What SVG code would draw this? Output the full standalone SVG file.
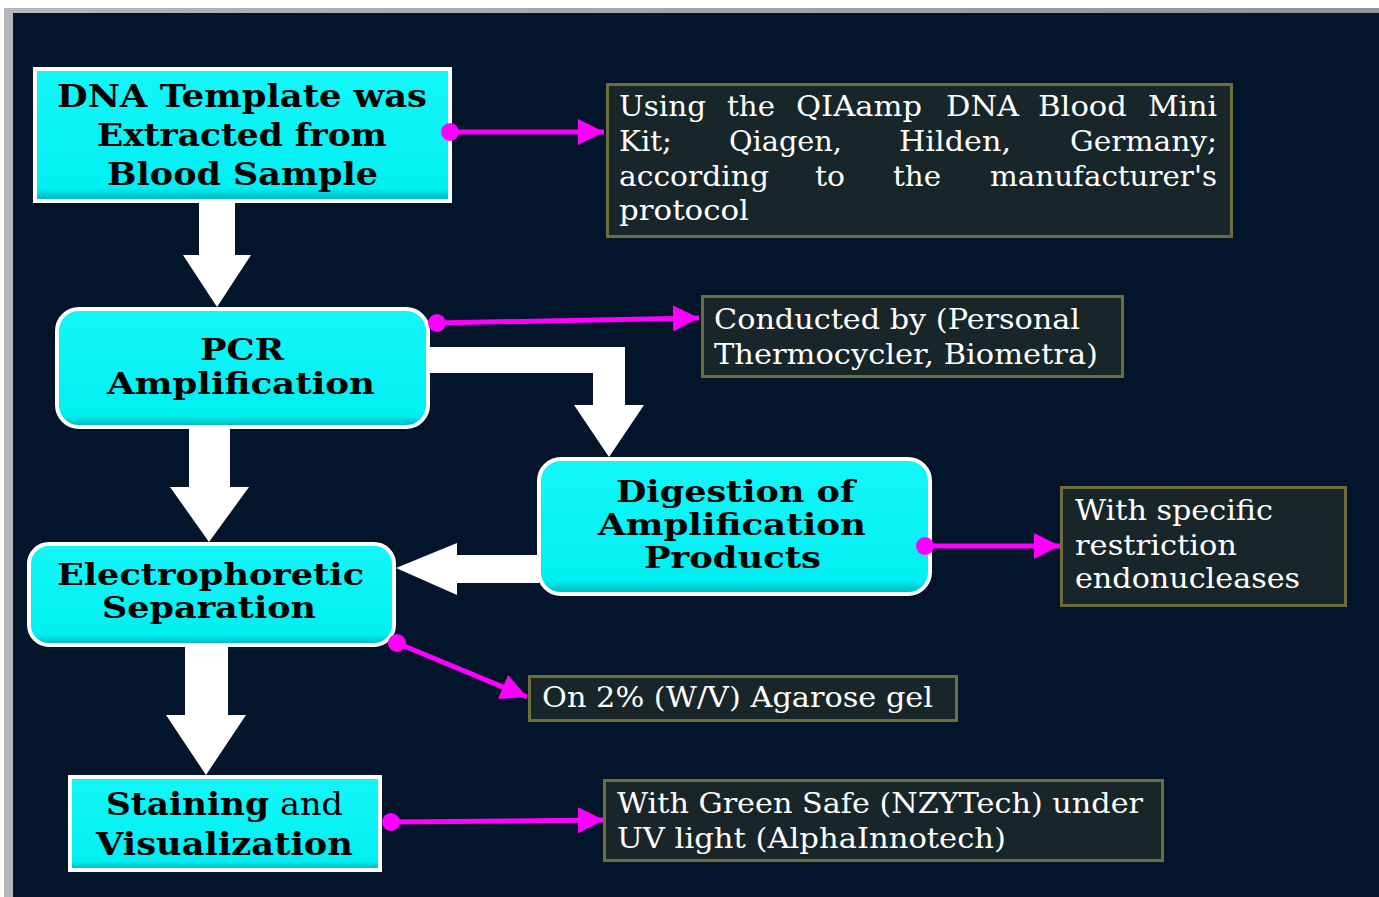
<svg xmlns="http://www.w3.org/2000/svg" width="1379" height="897" viewBox="0 0 1379 897">
<defs>
<linearGradient id="cyan" x1="0" y1="0" x2="0" y2="1">
<stop offset="0" stop-color="#14f6f8"/>
<stop offset="0.9" stop-color="#00f0f2"/>
<stop offset="1" stop-color="#00b2b8"/>
</linearGradient>
<linearGradient id="frame" x1="0" y1="0" x2="1" y2="0">
<stop offset="0" stop-color="#b4b8bc"/>
<stop offset="1" stop-color="#8e949a"/>
</linearGradient>
<marker id="mh" markerUnits="userSpaceOnUse" markerWidth="26" markerHeight="26" refX="24" refY="12" orient="auto" viewBox="0 0 24 24">
<path d="M0,0 L24,12 L0,24 z" fill="#ff00ff"/>
</marker>
<style>
.node{fill:url(#cyan);stroke:#ffffff;stroke-width:4}
.nt{font-family:"DejaVu Serif","Liberation Serif",serif;font-weight:bold;font-size:32px;fill:#000000}
.ns{font-size:29px}
.nr{font-family:"DejaVu Serif","Liberation Serif",serif;font-weight:normal;font-size:32px;fill:#000000}
.box{fill:#182629;stroke:#6d6d3c;stroke-width:3}
.bt{font-family:"DejaVu Serif","Liberation Serif",serif;font-size:28px;fill:#ffffff}
.blk{fill:#ffffff}
.mag{stroke:#ff00ff;stroke-width:5;fill:none;marker-end:url(#mh)}
.dot{fill:#ff00ff}
</style>
</defs>
<rect x="0" y="0" width="1379" height="897" fill="#ffffff"/>
<rect x="4" y="8" width="1375" height="889" fill="url(#frame)"/>
<rect x="13" y="13" width="1366" height="884" fill="#03152b"/>

<g id="block-arrows">
<polygon class="blk" points="199,203 235,203 235,255 251,255 217,307 183,255 199,255"/>
<polygon class="blk" points="189,428 230,428 230,487 249,487 209,542 170,487 189,487"/>
<polygon class="blk" points="185,647 228,647 228,715 246,715 206,775 166,715 185,715"/>
<polygon class="blk" points="427,347 625,347 625,405 644,405 609,457 574,405 593,405 593,373 427,373"/>
<polygon class="blk" points="539,555 457,555 457,543 396,568 457,595 457,583 539,583"/>
</g>

<g id="node-dna">
<rect class="node" x="35" y="69" width="415" height="132"/>
<text class="nt" x="57" y="107" textLength="370" lengthAdjust="spacingAndGlyphs">DNA Template was</text>
<text class="nt" x="97" y="146" textLength="290" lengthAdjust="spacingAndGlyphs">Extracted from</text>
<text class="nt" x="107" y="185" textLength="271" lengthAdjust="spacingAndGlyphs">Blood Sample</text>
</g>

<g id="node-pcr">
<rect class="node" x="57" y="309" width="371" height="118" rx="22"/>
<text class="nt ns" x="200" y="360" textLength="84" lengthAdjust="spacingAndGlyphs">PCR</text>
<text class="nt ns" x="107" y="394" textLength="268" lengthAdjust="spacingAndGlyphs">Amplification</text>
</g>

<g id="node-digestion">
<rect class="node" x="539" y="459" width="391" height="135" rx="22"/>
<text class="nt ns" x="616" y="502" textLength="239" lengthAdjust="spacingAndGlyphs">Digestion of</text>
<text class="nt ns" x="598" y="535" textLength="268" lengthAdjust="spacingAndGlyphs">Amplification</text>
<text class="nt ns" x="644" y="568" textLength="177" lengthAdjust="spacingAndGlyphs">Products</text>
</g>

<g id="node-electro">
<rect class="node" x="29" y="544" width="365" height="101" rx="20"/>
<text class="nt ns" x="57" y="585" textLength="307" lengthAdjust="spacingAndGlyphs">Electrophoretic</text>
<text class="nt ns" x="102" y="618" textLength="214" lengthAdjust="spacingAndGlyphs">Separation</text>
</g>

<g id="node-staining">
<rect class="node" x="70" y="777" width="310" height="93"/>
<text class="nt" x="106" y="815" textLength="163" lengthAdjust="spacingAndGlyphs">Staining</text>
<text class="nr" x="280" y="815" textLength="63" lengthAdjust="spacingAndGlyphs">and</text>
<text class="nt" x="96" y="855" textLength="257" lengthAdjust="spacingAndGlyphs">Visualization</text>
</g>

<g id="note-qiaamp">
<rect class="box" x="607.5" y="84.5" width="624" height="152"/>
<text class="bt" x="619" y="116" textLength="87" lengthAdjust="spacingAndGlyphs">Using</text>
<text class="bt" x="727" y="116" textLength="48" lengthAdjust="spacingAndGlyphs">the</text>
<text class="bt" x="796" y="116" textLength="126" lengthAdjust="spacingAndGlyphs">QIAamp</text>
<text class="bt" x="946" y="116" textLength="73" lengthAdjust="spacingAndGlyphs">DNA</text>
<text class="bt" x="1038" y="116" textLength="89" lengthAdjust="spacingAndGlyphs">Blood</text>
<text class="bt" x="1148" y="116" textLength="69" lengthAdjust="spacingAndGlyphs">Mini</text>
<text class="bt" x="619" y="151" textLength="53" lengthAdjust="spacingAndGlyphs">Kit;</text>
<text class="bt" x="729" y="151" textLength="113" lengthAdjust="spacingAndGlyphs">Qiagen,</text>
<text class="bt" x="899" y="151" textLength="112" lengthAdjust="spacingAndGlyphs">Hilden,</text>
<text class="bt" x="1070" y="151" textLength="147" lengthAdjust="spacingAndGlyphs">Germany;</text>
<text class="bt" x="619" y="186" textLength="150" lengthAdjust="spacingAndGlyphs">according</text>
<text class="bt" x="815" y="186" textLength="30" lengthAdjust="spacingAndGlyphs">to</text>
<text class="bt" x="893" y="186" textLength="48" lengthAdjust="spacingAndGlyphs">the</text>
<text class="bt" x="990" y="186" textLength="227" lengthAdjust="spacingAndGlyphs">manufacturer's</text>
<text class="bt" x="619" y="220" textLength="130" lengthAdjust="spacingAndGlyphs">protocol</text>
</g>

<g id="note-conducted">
<rect class="box" x="702.5" y="296.5" width="420" height="80"/>
<text class="bt" x="714" y="329" textLength="366" lengthAdjust="spacingAndGlyphs">Conducted by (Personal</text>
<text class="bt" x="714" y="364" textLength="384" lengthAdjust="spacingAndGlyphs">Thermocycler, Biometra)</text>
</g>

<g id="note-restriction">
<rect class="box" x="1061.5" y="487.5" width="284" height="118"/>
<text class="bt" x="1075" y="520" textLength="198" lengthAdjust="spacingAndGlyphs">With specific</text>
<text class="bt" x="1075" y="555" textLength="162" lengthAdjust="spacingAndGlyphs">restriction</text>
<text class="bt" x="1075" y="588" textLength="225" lengthAdjust="spacingAndGlyphs">endonucleases</text>
</g>

<g id="note-agarose">
<rect class="box" x="529.5" y="676.5" width="427" height="44"/>
<text class="bt" x="542" y="707" textLength="391" lengthAdjust="spacingAndGlyphs">On 2% (W/V) Agarose gel</text>
</g>

<g id="note-greensafe">
<rect class="box" x="604.5" y="780.5" width="558" height="80"/>
<text class="bt" x="617" y="813" textLength="526" lengthAdjust="spacingAndGlyphs">With Green Safe (NZYTech) under</text>
<text class="bt" x="617" y="848" textLength="389" lengthAdjust="spacingAndGlyphs">UV light (AlphaInnotech)</text>
</g>

<g id="connectors">
<line class="mag" x1="450" y1="132" x2="604" y2="132"/>
<circle class="dot" cx="450" cy="132" r="9"/>
<line class="mag" x1="437" y1="323" x2="699" y2="318"/>
<circle class="dot" cx="437" cy="323" r="9"/>
<line class="mag" x1="925" y1="546" x2="1060" y2="546"/>
<circle class="dot" cx="925" cy="546" r="9"/>
<line class="mag" x1="397" y1="643" x2="527" y2="697"/>
<circle class="dot" cx="397" cy="643" r="9"/>
<line class="mag" x1="391" y1="822" x2="604" y2="820"/>
<circle class="dot" cx="391" cy="822" r="9"/>
</g>
</svg>
